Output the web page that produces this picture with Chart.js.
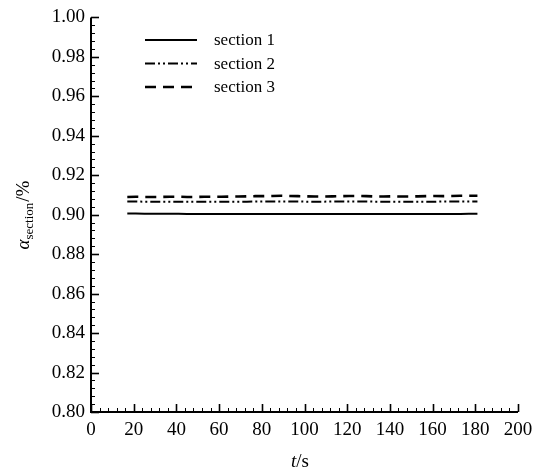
<!DOCTYPE html>
<html><head><meta charset="utf-8">
<script src="https://cdn.jsdelivr.net/npm/chart.js@4"></script>
<style>html,body{margin:0;padding:0;background:#fff}#wrap{width:543px;height:472px}</style>
</head><body><div id="wrap"><canvas id="c" width="543" height="472"></canvas></div>
<script>
const times = [17,21,25,29,33,37,41,45,49,53,57,61,65,69,73,77,81,85,89,93,97,101,105,109,113,117,121,125,129,133,137,141,145,149,153,157,161,165,169,173,177,181];
const section1 = [0.9006,0.9006,0.9005,0.9005,0.9005,0.9005,0.9005,0.9004,0.9004,0.9004,0.9004,0.9004,0.9004,0.9003,0.9003,0.9003,0.9003,0.9004,0.9004,0.9004,0.9004,0.9004,0.9003,0.9003,0.9003,0.9003,0.9003,0.9003,0.9003,0.9003,0.9003,0.9003,0.9003,0.9003,0.9003,0.9003,0.9003,0.9003,0.9004,0.9004,0.9005,0.9005];
const section2 = [0.9067,0.9067,0.9066,0.9066,0.9066,0.9066,0.9066,0.9066,0.9066,0.9066,0.9066,0.9066,0.9066,0.9066,0.9066,0.9067,0.9067,0.9067,0.9067,0.9067,0.9067,0.9066,0.9066,0.9066,0.9067,0.9067,0.9067,0.9067,0.9067,0.9066,0.9066,0.9066,0.9066,0.9066,0.9066,0.9066,0.9066,0.9067,0.9067,0.9067,0.9067,0.9067];
const section3 = [0.9090,0.9091,0.9090,0.9090,0.9090,0.9091,0.9091,0.9090,0.9090,0.9091,0.9091,0.9091,0.9092,0.9092,0.9093,0.9094,0.9094,0.9095,0.9096,0.9095,0.9094,0.9093,0.9092,0.9092,0.9093,0.9094,0.9095,0.9095,0.9094,0.9092,0.9092,0.9093,0.9092,0.9092,0.9093,0.9094,0.9095,0.9094,0.9095,0.9096,0.9096,0.9096];
const seriesLabels = ['section 1','section 2','section 3'];
const xTicks = [0,20,40,60,80,100,120,140,160,180,200];
const yTicks = [0.80,0.82,0.84,0.86,0.88,0.90,0.92,0.94,0.96,0.98,1.00];

const FONT = "Liberation Serif";
Chart.defaults.font.family = FONT;
Chart.defaults.color = '#000';
const dashes = [[], [10,3,2,3,2,3], [11,7]];
const widths = [2, 2, 2.6];

const ticksPlugin = {
  id: 'inTicks',
  afterDatasetsDraw(chart) {
    const ctx = chart.ctx, xs = chart.scales.x, ys = chart.scales.y;
    const a = chart.chartArea;
    ctx.save();
    ctx.strokeStyle = '#000';
    for (let v = 0; v <= 200; v += 4) {
      const px = Math.round(xs.getPixelForValue(v)) + 0.5;
      const major = v % 20 === 0;
      ctx.lineWidth = major ? 1.6 : 1;
      ctx.beginPath();
      ctx.moveTo(px, a.bottom);
      ctx.lineTo(px, a.bottom - (major ? 8 : 4));
      ctx.stroke();
    }
    for (let i = 0; i <= 50; i++) {
      const v = 0.80 + i * 0.004;
      const py = Math.round(ys.getPixelForValue(v)) + 0.5;
      const major = i % 5 === 0;
      ctx.lineWidth = major ? 1.6 : 1;
      ctx.beginPath();
      ctx.moveTo(a.left, py);
      ctx.lineTo(a.left + (major ? 8 : 4), py);
      ctx.stroke();
    }
    ctx.lineWidth = 2;
    ctx.beginPath();
    ctx.moveTo(a.left, a.top);
    ctx.lineTo(a.left, a.bottom);
    ctx.lineTo(a.right, a.bottom);
    ctx.stroke();

    const ds = chart.data.datasets;
    ctx.font = '17px ' + FONT;
    ctx.fillStyle = '#000';
    ctx.textBaseline = 'middle';
    ds.forEach((d, i) => {
      const y = 40 + i * 23.5;
      ctx.lineWidth = d.borderWidth;
      ctx.setLineDash(d.borderDash || []);
      ctx.beginPath();
      ctx.moveTo(145, y);
      ctx.lineTo(197, y);
      ctx.stroke();
      ctx.setLineDash([]);
      ctx.fillText(d.label, 214, y + 1);
    });

    ctx.textBaseline = 'alphabetic';
    ctx.textAlign = 'left';
    ctx.font = 'italic 19px ' + FONT;
    const tW = ctx.measureText('t').width;
    ctx.font = '19px ' + FONT;
    const sW = ctx.measureText('/s').width;
    let x0 = 300 - (tW + sW) / 2;
    ctx.font = 'italic 19px ' + FONT;
    ctx.fillText('t', x0, 467);
    ctx.font = '19px ' + FONT;
    ctx.fillText('/s', x0 + tW, 467);

    ctx.translate(29, 215);
    ctx.rotate(-Math.PI / 2);
    ctx.font = 'italic 19px ' + FONT;
    const aW = ctx.measureText('α').width;
    ctx.font = '13px ' + FONT;
    const subW = ctx.measureText('section').width;
    ctx.font = '19px ' + FONT;
    const rW = ctx.measureText('/%').width;
    let s = -(aW + subW + rW + 1) / 2;
    ctx.font = 'italic 19px ' + FONT;
    ctx.fillText('α', s, 0);
    ctx.font = '13px ' + FONT;
    ctx.fillText('section', s + aW, 4);
    ctx.font = '19px ' + FONT;
    ctx.fillText('/%', s + aW + subW + 1, 0);
    ctx.restore();
  }
};

const mk = (arr) => times.map((t, i) => ({x: t, y: arr[i]}));
new Chart(document.getElementById('c'), {
  type: 'line',
  data: {
    datasets: [section1, section2, section3].map((arr, i) => ({
      label: seriesLabels[i],
      data: mk(arr),
      borderColor: '#000',
      borderWidth: widths[i],
      borderDash: dashes[i],
      pointRadius: 0,
      fill: false,
      tension: 0
    }))
  },
  options: {
    responsive: false,
    animation: false,
    layout: { padding: { left: 0, right: 25, top: 16, bottom: 0 } },
    plugins: { legend: { display: false }, tooltip: { enabled: false } },
    scales: {
      x: {
        type: 'linear', min: 0, max: 200,
        afterBuildTicks: (sc) => { sc.ticks = xTicks.map(v => ({value: v})); },
        afterFit: (sc) => { sc.height = 60; },
        grid: { display: false, drawTicks: false },
        border: { display: false },
        ticks: { color: '#000', font: { family: 'Liberation Serif', size: 19 }, padding: 7, maxRotation: 0, autoSkip: false }
      },
      y: {
        type: 'linear', min: 0.80, max: 1.00,
        afterBuildTicks: (sc) => { sc.ticks = yTicks.map(v => ({value: v})); },
        afterFit: (sc) => { sc.width = 91; },
        grid: { display: false, drawTicks: false },
        border: { display: false },
        ticks: { color: '#000', font: { family: 'Liberation Serif', size: 19 }, padding: 6, autoSkip: false,
          callback: (v) => Number(v).toFixed(2) }
      }
    }
  },
  plugins: [ticksPlugin]
});
</script></body></html>
